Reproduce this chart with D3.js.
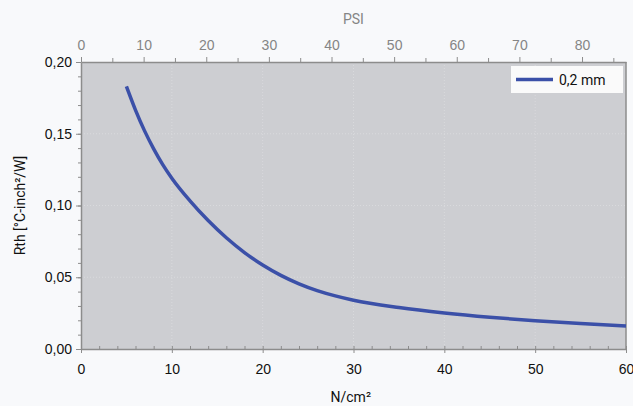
<!DOCTYPE html>
<html>
<head>
<meta charset="utf-8">
<script src="https://cdn.jsdelivr.net/npm/d3@7"></script>
<style>
  html, body { margin: 0; padding: 0; background: #f8f9fb; }
  svg { display: block; font-family: Roboto, "DejaVu Sans", sans-serif; }
</style>
</head>
<body>
<svg id="chart" width="633" height="406"></svg>
<script>
// pressure in N/cm² and thermal resistance
const pressure = [5, 6, 7, 8, 9, 10, 12, 14, 16, 18, 20, 22, 24, 26, 28, 30, 35, 40, 45, 50, 55, 60];
const rth = [0.183, 0.1665, 0.152, 0.1395, 0.1285, 0.119, 0.1032, 0.0895, 0.0775, 0.0672, 0.0585,
  0.0513, 0.0454, 0.0407, 0.037, 0.034, 0.0289, 0.0251, 0.0221, 0.0197, 0.0177, 0.0161];
const seriesName = "0,2 mm";
const xTicks = [0, 10, 20, 30, 40, 50, 60];
const yTicks = [0, 0.05, 0.1, 0.15, 0.2];
const psiTicks = [0, 10, 20, 30, 40, 50, 60, 70, 80];
const PSI_PER_NCM2 = 1.450377;

const svg = d3.select("#chart");
const plot = { left: 81, right: 626, top: 62, bottom: 349 };
const axisColor = "#8c8c8c";
const fmtComma = (f) => (d) => d3.format(f)(d).replace(".", ",");

const x = d3.scaleLinear().domain([0, 60]).range([plot.left, plot.right]);
const y = d3.scaleLinear().domain([0, 0.2]).range([plot.bottom, plot.top]);
const xPsi = d3.scaleLinear().domain([0, 60 * PSI_PER_NCM2]).range([plot.left, plot.right]);

// plot background
svg.append("rect")
  .attr("x", plot.left).attr("y", plot.top)
  .attr("width", plot.right - plot.left).attr("height", plot.bottom - plot.top)
  .attr("fill", "#cdced2");

// faint grid
const grid = svg.append("g").attr("stroke", "#d9dadd").attr("stroke-width", 1)
  .attr("stroke-dasharray", "1,2");
grid.selectAll(".gx").data(xTicks.slice(1, -1)).join("line")
  .attr("x1", (d) => x(d)).attr("x2", (d) => x(d))
  .attr("y1", plot.top).attr("y2", plot.bottom);
grid.selectAll(".gy").data(yTicks.slice(1, -1)).join("line")
  .attr("x1", plot.left).attr("x2", plot.right)
  .attr("y1", (d) => y(d)).attr("y2", (d) => y(d));

// right border
svg.append("line")
  .attr("x1", plot.right).attr("x2", plot.right).attr("y1", plot.top).attr("y2", plot.bottom)
  .attr("stroke", axisColor).attr("stroke-width", 1.5);

function styleAxis(g, color, size) {
  g.select(".domain").attr("stroke", axisColor).attr("stroke-width", 1.5);
  g.selectAll(".tick line").attr("stroke", axisColor);
  g.selectAll(".tick text").attr("fill", color).style("font-size", size);
}

// bottom axis: minor ticks inside, major ticks outside
const gxMinor = svg.append("g").attr("transform", `translate(0,${plot.bottom})`)
  .call(d3.axisTop(x).tickValues(d3.range(0, 61, 2)).tickSize(3).tickFormat("").tickSizeOuter(0));
gxMinor.select(".domain").remove();
gxMinor.selectAll(".tick line").attr("stroke", axisColor);

const gx = svg.append("g").attr("transform", `translate(0,${plot.bottom})`)
  .call(d3.axisBottom(x).tickValues(xTicks).tickSize(4).tickSizeOuter(0).tickPadding(11));
styleAxis(gx, "#111", "14px");

// top PSI axis
const gtMinor = svg.append("g").attr("transform", `translate(0,${plot.top})`)
  .call(d3.axisTop(xPsi).tickValues(d3.range(5, 86, 10)).tickSize(4).tickFormat("").tickSizeOuter(0));
gtMinor.select(".domain").remove();
gtMinor.selectAll(".tick line").attr("stroke", axisColor);

const gt = svg.append("g").attr("transform", `translate(0,${plot.top})`)
  .call(d3.axisTop(xPsi).tickValues(psiTicks).tickSize(5).tickSizeOuter(0).tickPadding(7));
styleAxis(gt, "#858585", "14px");

// left axis
const gyMinor = svg.append("g").attr("transform", `translate(${plot.left},0)`)
  .call(d3.axisLeft(y).tickValues(d3.range(0, 0.2001, 0.01)).tickSize(3).tickFormat("").tickSizeOuter(0));
gyMinor.select(".domain").remove();
gyMinor.selectAll(".tick line").attr("stroke", axisColor);

const gy = svg.append("g").attr("transform", `translate(${plot.left},0)`)
  .call(d3.axisLeft(y).tickValues(yTicks).tickSize(5).tickSizeOuter(0).tickPadding(4)
    .tickFormat(fmtComma(".2f")));
styleAxis(gy, "#111", "14px");

// axis titles
svg.append("text")
  .attr("x", x(29.7)).attr("y", 402)
  .attr("text-anchor", "middle")
  .attr("fill", "#111").style("font-size", "14px")
  .text("N/cm²");

svg.append("text")
  .attr("x", xPsi(43.5)).attr("y", 24)
  .attr("text-anchor", "middle")
  .attr("fill", "#858585").style("font-size", "14px")
  .text("PSI");

svg.append("text")
  .attr("transform", `translate(25,${(plot.top + plot.bottom) / 2}) rotate(-90)`)
  .attr("text-anchor", "middle")
  .attr("fill", "#111").style("font-size", "14px")
  .text("Rth [°C-inch²/W]");

// curve
const data = pressure.map((p, i) => ({ p: p, v: rth[i] }));
const line = d3.line()
  .x((d) => x(d.p))
  .y((d) => y(d.v))
  .curve(d3.curveMonotoneX);

svg.append("path")
  .datum(data)
  .attr("fill", "none")
  .attr("stroke", "#3b50a8")
  .attr("stroke-width", 3.5)
  .attr("d", line);

// legend
const lg = svg.append("g").attr("transform", "translate(511,66)");
lg.append("rect").attr("width", 112).attr("height", 27).attr("fill", "#fafafa");
lg.append("line").attr("x1", 5).attr("x2", 42).attr("y1", 13.5).attr("y2", 13.5)
  .attr("stroke", "#3b50a8").attr("stroke-width", 3.5);
lg.append("text").attr("x", 48).attr("y", 18.5)
  .attr("fill", "#111").style("font-size", "14px")
  .text(seriesName);
</script>
</body>
</html>
